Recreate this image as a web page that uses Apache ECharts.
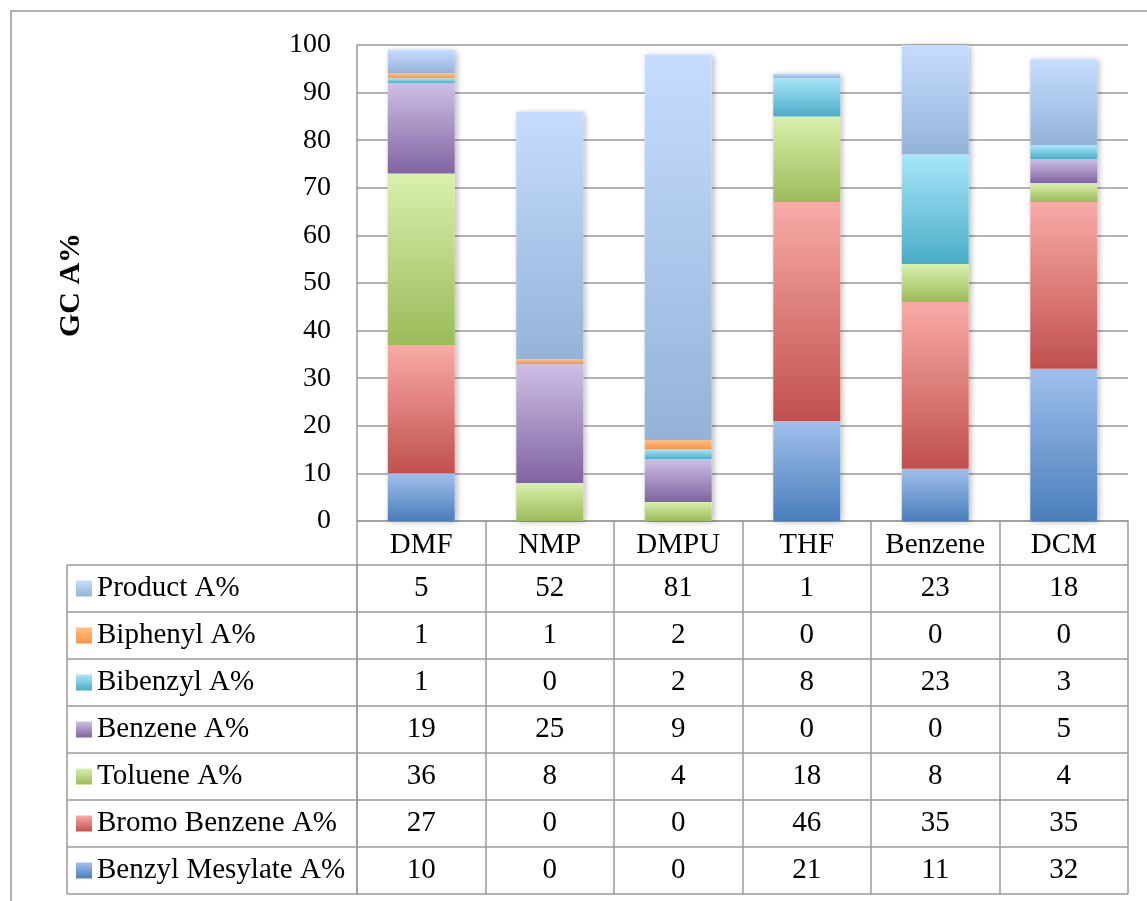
<!DOCTYPE html>
<html>
<head>
<meta charset="utf-8">
<style>
html,body{margin:0;padding:0;background:#fff;}
#c{width:1147px;height:901px;}
</style>
<script src="https://cdn.jsdelivr.net/npm/echarts@6/dist/echarts.min.js"></script>
</head>
<body>
<div id="c"></div>
<script>
// ---- data ----
const categories = ['DMF', 'NMP', 'DMPU', 'THF', 'Benzene', 'DCM'];
const seriesNames = ['Benzyl Mesylate A%', 'Bromo Benzene A%', 'Toluene A%', 'Benzene A%', 'Bibenzyl A%', 'Biphenyl A%', 'Product A%'];
const benzylMesylate = [10, 0, 0, 21, 11, 32];
const bromoBenzene   = [27, 0, 0, 46, 35, 35];
const toluene        = [36, 8, 4, 18, 8, 4];
const benzene        = [19, 25, 9, 0, 0, 5];
const bibenzyl       = [1, 0, 2, 8, 23, 3];
const biphenyl       = [1, 1, 2, 0, 0, 0];
const product        = [5, 52, 81, 1, 23, 18];
const yAxisMin = 0, yAxisMax = 100, yAxisStep = 10;
const axisTitle = 'GC A%';

// ---- styling ----
const seriesValues = [benzylMesylate, bromoBenzene, toluene, benzene, bibenzyl, biphenyl, product];
const gradColors = [
  ['#a0c0ec', '#4a7ebb'],
  ['#f9aba8', '#c0504d'],
  ['#d9f0ad', '#9bbb59'],
  ['#cebfe5', '#8064a2'],
  ['#a8e6fb', '#4bacc6'],
  ['#ffbe88', '#f79646'],
  ['#c5dcff', '#95b3d7']
];
const FONT = 'Liberation Serif';
const LINE = '#9a9a9a';
const LW = 1.5;
const TFS = 29;

function grad(c) {
  return new echarts.graphic.LinearGradient(0, 0, 0, 1, [
    { offset: 0, color: c[0] }, { offset: 1, color: c[1] }
  ]);
}
function keyImage(c) {
  const cv = document.createElement('canvas');
  cv.width = 16; cv.height = 16;
  const ctx = cv.getContext('2d');
  const g = ctx.createLinearGradient(0, 0, 0, 16);
  g.addColorStop(0, c[0]); g.addColorStop(1, c[1]);
  ctx.fillStyle = g; ctx.fillRect(0, 0, 16, 16);
  return cv;
}

const totals = categories.map((_, j) => seriesValues.reduce((s, arr) => s + arr[j], 0));

const rich = { t: { fontFamily: FONT, fontSize: TFS, color: '#000', padding: [0, 0, 0, 5] } };
seriesNames.forEach((n, i) => {
  rich['k' + i] = { width: 16, height: 16, backgroundColor: { image: keyImage(gradColors[i]) } };
});

const tableData = [];
seriesValues.forEach((arr, i) => arr.forEach((v, j) => tableData.push([j, i, v])));

const chart = echarts.init(document.getElementById('c'), null, { renderer: 'canvas' });

const series = [{
  type: 'bar',
  name: 'shadow',
  xAxisIndex: 0, yAxisIndex: 0,
  data: totals,
  barWidth: 67,
  barGap: '-100%',
  silent: true,
  z: 1,
  itemStyle: { color: '#fff', shadowBlur: 6, shadowColor: 'rgba(0,0,0,0.28)', shadowOffsetX: 2, shadowOffsetY: 1 }
}];
seriesNames.forEach((n, i) => {
  series.push({
    type: 'bar',
    name: n,
    stack: 'total',
    xAxisIndex: 0, yAxisIndex: 0,
    data: seriesValues[i],
    barWidth: 67,
    barGap: '-100%',
    z: 2,
    itemStyle: { color: grad(gradColors[i]) }
  });
});
series.push({
  type: 'scatter',
  xAxisIndex: 1, yAxisIndex: 1,
  data: tableData,
  symbolSize: 1,
  itemStyle: { color: 'rgba(0,0,0,0)', opacity: 1 },
  silent: true,
  label: {
    show: true, position: 'inside', opacity: 1,
    formatter: p => String(p.value[2]),
    fontFamily: FONT, fontSize: TFS, color: '#000'
  }
});

chart.setOption({
  animation: false,
  backgroundColor: '#fff',
  grid: [
    { left: 357, right: 19, top: 45, bottom: 380 },
    { left: 357, right: 19, top: 565, bottom: 7 }
  ],
  xAxis: [
    {
      type: 'category', gridIndex: 0, data: categories,
      axisLine: { show: true, lineStyle: { color: LINE, width: LW } },
      axisTick: { show: true, interval: 0, length: 44, alignWithLabel: false, lineStyle: { color: LINE, width: LW } },
      axisLabel: { interval: 0, hideOverlap: false, fontFamily: FONT, fontSize: TFS, color: '#000', margin: 10 },
      splitLine: { show: false }
    },
    {
      type: 'category', gridIndex: 1, data: categories,
      axisLine: { show: false }, axisTick: { show: false }, axisLabel: { show: false },
      splitLine: { show: true, interval: 0, lineStyle: { color: LINE, width: LW } }
    }
  ],
  yAxis: [
    {
      type: 'value', gridIndex: 0, min: yAxisMin, max: yAxisMax, interval: yAxisStep,
      axisLine: { show: true, lineStyle: { color: LINE, width: LW } },
      axisTick: { show: false },
      axisLabel: { fontFamily: FONT, fontSize: 28, color: '#000', margin: 26 },
      splitLine: { show: true, lineStyle: { color: LINE, width: LW } }
    },
    {
      type: 'category', gridIndex: 1, data: seriesNames,
      axisLine: { show: true, lineStyle: { color: LINE, width: LW } },
      axisTick: { show: true, interval: 0, length: 290, alignWithLabel: false, lineStyle: { color: LINE, width: LW } },
      axisLabel: {
        interval: 0,
        margin: 281, align: 'left',
        formatter: (v, idx) => '{k' + idx + '|}{t|' + v + '}',
        rich: rich
      },
      splitLine: { show: true, interval: 0, lineStyle: { color: LINE, width: LW } }
    }
  ],
  graphic: [
    { type: 'rect', silent: true, z: -1, shape: { x: 11, y: 11, width: 1200, height: 1000 },
      style: { fill: 'none', stroke: LINE, lineWidth: LW } },
    { type: 'line', silent: true, shape: { x1: 67, y1: 565, x2: 67, y2: 894 },
      style: { stroke: LINE, lineWidth: LW } },
    { type: 'text', silent: true, x: 71, y: 285, rotation: Math.PI / 2,
      style: { text: axisTitle, fontFamily: FONT, fontSize: 30, fontWeight: 'bold', fill: '#000',
               align: 'center', verticalAlign: 'middle' } }
  ],
  series: series
});
</script>
</body>
</html>
